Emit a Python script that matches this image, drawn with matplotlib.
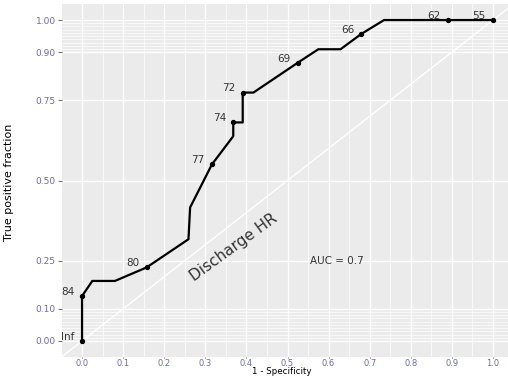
import numpy as np
import matplotlib
matplotlib.use("Agg")
import matplotlib.pyplot as plt
from matplotlib.ticker import FixedLocator

# ROC path vertices (1 - specificity, sensitivity)
fpr = [0.0, 0.0, 0.025, 0.08, 0.157, 0.259, 0.263, 0.316, 0.368, 0.368, 0.391, 0.391,
       0.417, 0.525, 0.575, 0.629, 0.680, 0.735, 0.891, 1.0]
tpr = [0.0, 0.14, 0.187, 0.187, 0.229, 0.317, 0.416, 0.55, 0.638, 0.681, 0.681, 0.774,
       0.774, 0.867, 0.909, 0.909, 0.957, 1.0, 1.0, 1.0]

# labelled cutoffs
cut_labels = ['Inf', '84', '80', '77', '74', '72', '69', '66', '62', '55']
cut_fpr = [0.0, 0.0, 0.157, 0.316, 0.368, 0.391, 0.525, 0.680, 0.891, 1.0]
cut_tpr = [0.0, 0.14, 0.229, 0.55, 0.681, 0.774, 0.867, 0.957, 1.0, 1.0]

x_ticks = [0.0, 0.1, 0.2, 0.3, 0.4, 0.5, 0.6, 0.7, 0.8, 0.9, 1.0]
y_ticks = [0.0, 0.1, 0.25, 0.5, 0.75, 0.9, 1.0]
y_tick_labels = ['0.00', '0.10', '0.25', '0.50', '0.75', '0.90', '1.00']

W, H = 508, 376
fig = plt.figure(figsize=(W / 100, H / 100), dpi=100)
fig.patch.set_facecolor('white')

# panel in pixel coords: x -0.05 -> 61.5, 1.05 -> 513.5 ; y top 4, bottom 357
left, right, top, bottom = 61.5, 513.5, 4, 357
ax = fig.add_axes([left / W, 1 - bottom / H, (right - left) / W, (bottom - top) / H])
ax.set_facecolor('#EBEBEB')
ax.set_xlim(-0.05, 1.05)
ax.set_ylim(-0.05, 1.05)
for s in ax.spines.values():
    s.set_visible(False)

ax.xaxis.set_major_locator(FixedLocator(x_ticks))
ax.xaxis.set_minor_locator(FixedLocator(np.arange(0.05, 1.0, 0.1)))
ax.yaxis.set_major_locator(FixedLocator(y_ticks))
y_minor = [v for v in np.round(np.r_[np.arange(0, 0.1, 0.01), np.arange(0.9, 1.0, 0.01)], 2)
           if v not in y_ticks]
ax.yaxis.set_minor_locator(FixedLocator(y_minor))
ax.set_xticklabels([f'{v:.1f}' for v in x_ticks])
ax.set_yticklabels(y_tick_labels)

ax.grid(which='major', color='white', lw=1.0)
ax.grid(which='minor', color='white', lw=0.5)
ax.set_axisbelow(True)
ax.tick_params(axis='y', which='major', length=2.75, width=0.5, color='#333333', pad=1.5,
               labelsize=6.5, labelcolor='#6a6aae')
ax.tick_params(axis='x', which='major', length=1.0, width=0.5, color='#333333', pad=0.3,
               labelsize=6, labelcolor='#6a6aae')
ax.tick_params(which='minor', length=0)

ax.axline((0, 0), (1, 1), color='white', lw=1.0, zorder=1)

ax.plot(fpr, tpr, color='black', lw=1.6, zorder=3, solid_joinstyle='round')
ax.scatter(cut_fpr, cut_tpr, s=8, color='black', zorder=4)
for lab, x, y in zip(cut_labels, cut_fpr, cut_tpr):
    ax.annotate(lab, (x, y), xytext=(-10, 3), textcoords='offset points',
                ha='center', va='center', fontsize=7.5, color='#333333')

ax.text(0.37, 0.29, 'Discharge HR', rotation=36, rotation_mode='anchor',
        ha='center', va='center', fontsize=11, color='#333333')
ax.text(0.62, 0.25, 'AUC = 0.7', ha='center', va='center', fontsize=7.5, color='#333333')

fig.text(282 / W, 0.5 / H, '1 - Specificity', ha='center', va='bottom',
         fontsize=6.3, color='black')
fig.text(9 / W, 1 - 182 / H, 'True positive fraction', rotation=90, ha='center', va='center',
         fontsize=8, color='black', family=['Liberation Sans Narrow', 'DejaVu Sans'])

fig.savefig('out.png', dpi=100)
